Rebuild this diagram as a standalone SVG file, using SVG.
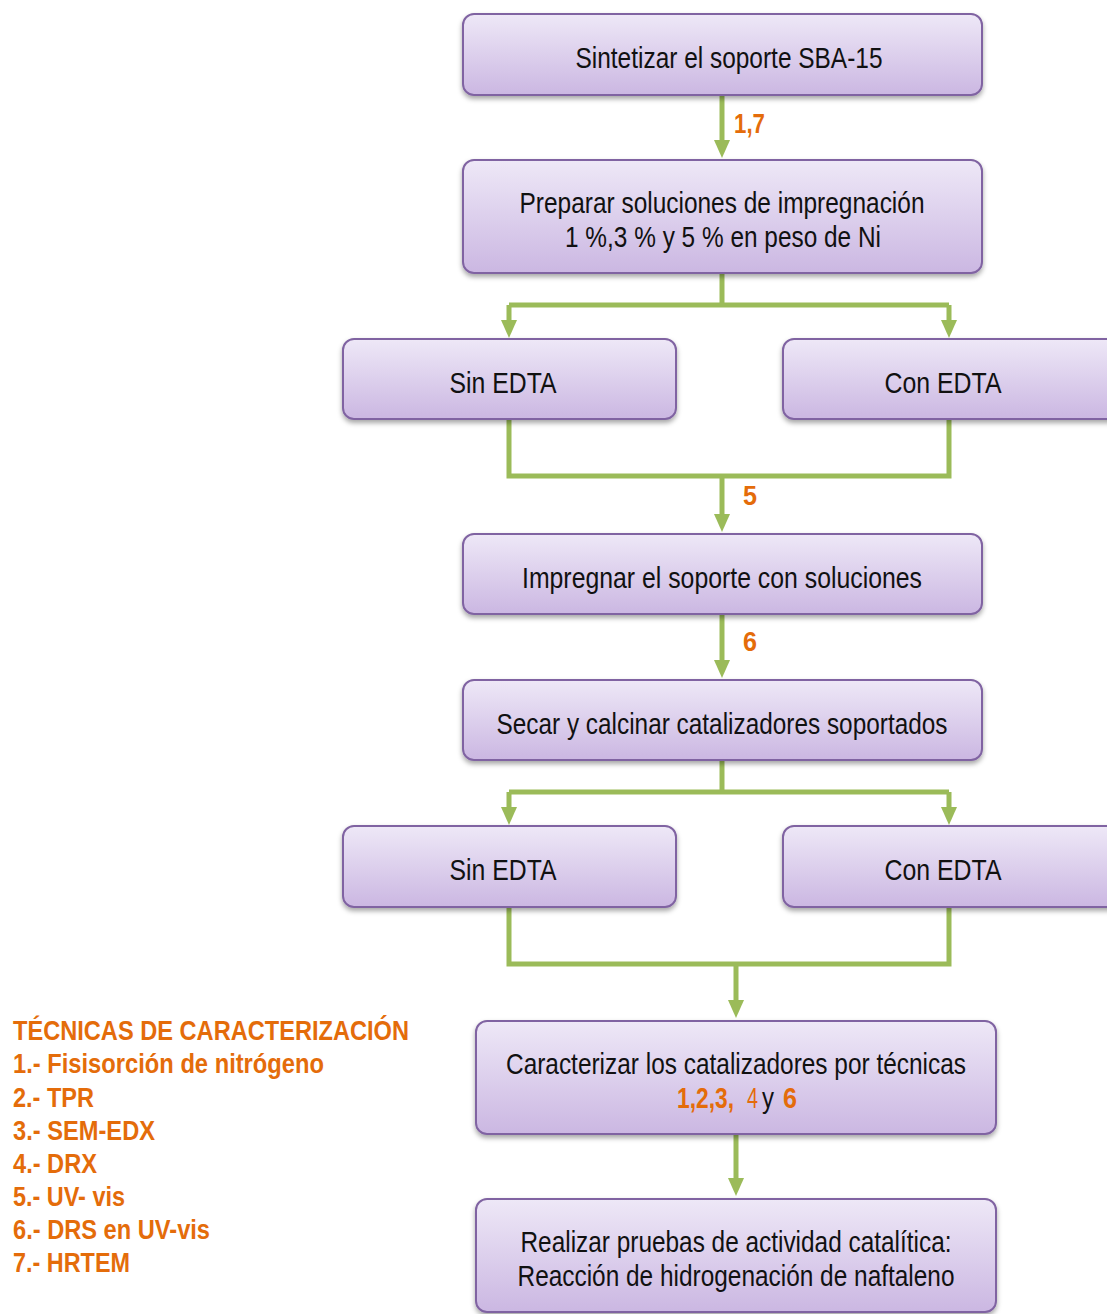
<svg xmlns="http://www.w3.org/2000/svg" width="1107" height="1314" viewBox="0 0 1107 1314">
  <style>
    .box { fill: url(#boxFill); stroke: #8064A2; stroke-width: 2; filter: url(#shadow); }
    .lbl { font-family: "Liberation Sans Narrow", "Liberation Sans", Arial, sans-serif; font-size: 29px; fill: #111; text-anchor: middle; }
    .num { font-family: "Liberation Sans Narrow", "Liberation Sans", Arial, sans-serif; font-size: 27px; font-weight: bold; fill: #E46C0A; }
    .leg { font-family: "Liberation Sans Narrow", "Liberation Sans", Arial, sans-serif; font-size: 27px; font-weight: bold; fill: #E46C0A; }
    .seg { font-family: "Liberation Sans Narrow", "Liberation Sans", Arial, sans-serif; font-size: 29px; }
    .wire { fill: none; stroke: #9BBB59; stroke-width: 5; }
    .head { fill: #9BBB59; }
  </style>
  <defs>
    <linearGradient id="boxFill" x1="0" y1="0" x2="0" y2="1">
      <stop offset="0" stop-color="#EEE8F7"/>
      <stop offset="1" stop-color="#CBB7E2"/>
    </linearGradient>
    <filter id="shadow" x="-5%" y="-10%" width="110%" height="130%">
      <feDropShadow dx="0" dy="3" stdDeviation="2.5" flood-color="#000" flood-opacity="0.35"/>
    </filter>
  </defs>

  <!-- connectors -->
  <g id="connectors">
    <line class="wire" x1="722" y1="96" x2="722" y2="141"/>
    <path class="head" d="M714,140 L730,140 L722,158 Z"/>
    <path class="wire" d="M722,273 V305 M509,305 H949 M509,305 V322 M949,305 V322"/>
    <path class="head" d="M501,320 L517,320 L509,338 Z"/>
    <path class="head" d="M941,320 L957,320 L949,338 Z"/>
    <path class="wire" d="M509,419 V476 H949 V419 M722,476 V516"/>
    <path class="head" d="M714,514 L730,514 L722,532 Z"/>
    <line class="wire" x1="722" y1="614" x2="722" y2="662"/>
    <path class="head" d="M714,660 L730,660 L722,678 Z"/>
    <path class="wire" d="M722,760 V792 M509,792 H949 M509,792 V809 M949,792 V809"/>
    <path class="head" d="M501,807 L517,807 L509,825 Z"/>
    <path class="head" d="M941,807 L957,807 L949,825 Z"/>
    <path class="wire" d="M509,907 V964 H949 V907 M736,964 V1002"/>
    <path class="head" d="M728,1000 L744,1000 L736,1018 Z"/>
    <line class="wire" x1="736" y1="1134" x2="736" y2="1180"/>
    <path class="head" d="M728,1178 L744,1178 L736,1196 Z"/>
    <text class="num" x="734" y="133" textLength="31" lengthAdjust="spacingAndGlyphs">1,7</text>
    <text class="num" x="743" y="505" textLength="14" lengthAdjust="spacingAndGlyphs">5</text>
    <text class="num" x="743" y="651" textLength="14" lengthAdjust="spacingAndGlyphs">6</text>
  </g>

  <g id="n-sintetizar">
    <rect class="box" x="463" y="14" width="519" height="81" rx="11"/>
    <text class="lbl" x="729" y="68" textLength="307" lengthAdjust="spacingAndGlyphs">Sintetizar el soporte SBA-15</text>
  </g>
  <g id="n-preparar">
    <rect class="box" x="463" y="160" width="519" height="113" rx="11"/>
    <text class="lbl" x="722" y="213" textLength="405" lengthAdjust="spacingAndGlyphs">Preparar soluciones de impregnación</text>
    <text class="lbl" x="723" y="247" textLength="316" lengthAdjust="spacingAndGlyphs">1 %,3 % y 5 % en peso de Ni</text>
  </g>
  <g id="n-sin1">
    <rect class="box" x="343" y="339" width="333" height="80" rx="11"/>
    <text class="lbl" x="503" y="393" textLength="107" lengthAdjust="spacingAndGlyphs">Sin EDTA</text>
  </g>
  <g id="n-con1">
    <rect class="box" x="783" y="339" width="340" height="80" rx="11"/>
    <text class="lbl" x="943" y="393" textLength="117" lengthAdjust="spacingAndGlyphs">Con EDTA</text>
  </g>
  <g id="n-impregnar">
    <rect class="box" x="463" y="534" width="519" height="80" rx="11"/>
    <text class="lbl" x="722" y="588" textLength="400" lengthAdjust="spacingAndGlyphs">Impregnar  el soporte con soluciones</text>
  </g>
  <g id="n-secar">
    <rect class="box" x="463" y="680" width="519" height="80" rx="11"/>
    <text class="lbl" x="722" y="734" textLength="451" lengthAdjust="spacingAndGlyphs">Secar y calcinar catalizadores soportados</text>
  </g>
  <g id="n-sin2">
    <rect class="box" x="343" y="826" width="333" height="81" rx="11"/>
    <text class="lbl" x="503" y="880" textLength="107" lengthAdjust="spacingAndGlyphs">Sin EDTA</text>
  </g>
  <g id="n-con2">
    <rect class="box" x="783" y="826" width="340" height="81" rx="11"/>
    <text class="lbl" x="943" y="880" textLength="117" lengthAdjust="spacingAndGlyphs">Con EDTA</text>
  </g>
  <g id="n-caracterizar">
    <rect class="box" x="476" y="1021" width="520" height="113" rx="11"/>
    <text class="lbl" x="736" y="1074" textLength="460" lengthAdjust="spacingAndGlyphs">Caracterizar los catalizadores por técnicas</text>
    <text class="seg" x="734" y="1108" text-anchor="end" fill="#E46C0A" font-weight="bold" textLength="57" lengthAdjust="spacingAndGlyphs">1,2,3,</text>
    <text class="seg" x="747" y="1108" fill="#E46C0A" textLength="11" lengthAdjust="spacingAndGlyphs">4</text>
    <text class="seg" x="762" y="1108" fill="#111" textLength="12" lengthAdjust="spacingAndGlyphs">y</text>
    <text class="seg" x="783" y="1108" fill="#E46C0A" font-weight="bold" textLength="14" lengthAdjust="spacingAndGlyphs">6</text>
  </g>
  <g id="n-realizar">
    <rect class="box" x="476" y="1199" width="520" height="113" rx="11"/>
    <text class="lbl" x="736" y="1252" textLength="431" lengthAdjust="spacingAndGlyphs">Realizar pruebas de actividad catalítica:</text>
    <text class="lbl" x="736" y="1286" textLength="437" lengthAdjust="spacingAndGlyphs">Reacción de hidrogenación de naftaleno</text>
  </g>

  <g id="legend">
    <text class="leg" x="13" y="1040" textLength="396" lengthAdjust="spacingAndGlyphs">TÉCNICAS DE CARACTERIZACIÓN</text>
    <text class="leg" x="13" y="1073" textLength="311" lengthAdjust="spacingAndGlyphs">1.- Fisisorción de nitrógeno</text>
    <text class="leg" x="13" y="1107" textLength="81" lengthAdjust="spacingAndGlyphs">2.- TPR</text>
    <text class="leg" x="13" y="1140" textLength="142" lengthAdjust="spacingAndGlyphs">3.- SEM-EDX</text>
    <text class="leg" x="13" y="1173" textLength="84" lengthAdjust="spacingAndGlyphs">4.- DRX</text>
    <text class="leg" x="13" y="1206" textLength="112" lengthAdjust="spacingAndGlyphs">5.- UV- vis</text>
    <text class="leg" x="13" y="1239" textLength="197" lengthAdjust="spacingAndGlyphs">6.- DRS en UV-vis</text>
    <text class="leg" x="13" y="1272" textLength="117" lengthAdjust="spacingAndGlyphs">7.- HRTEM</text>
  </g>
</svg>
